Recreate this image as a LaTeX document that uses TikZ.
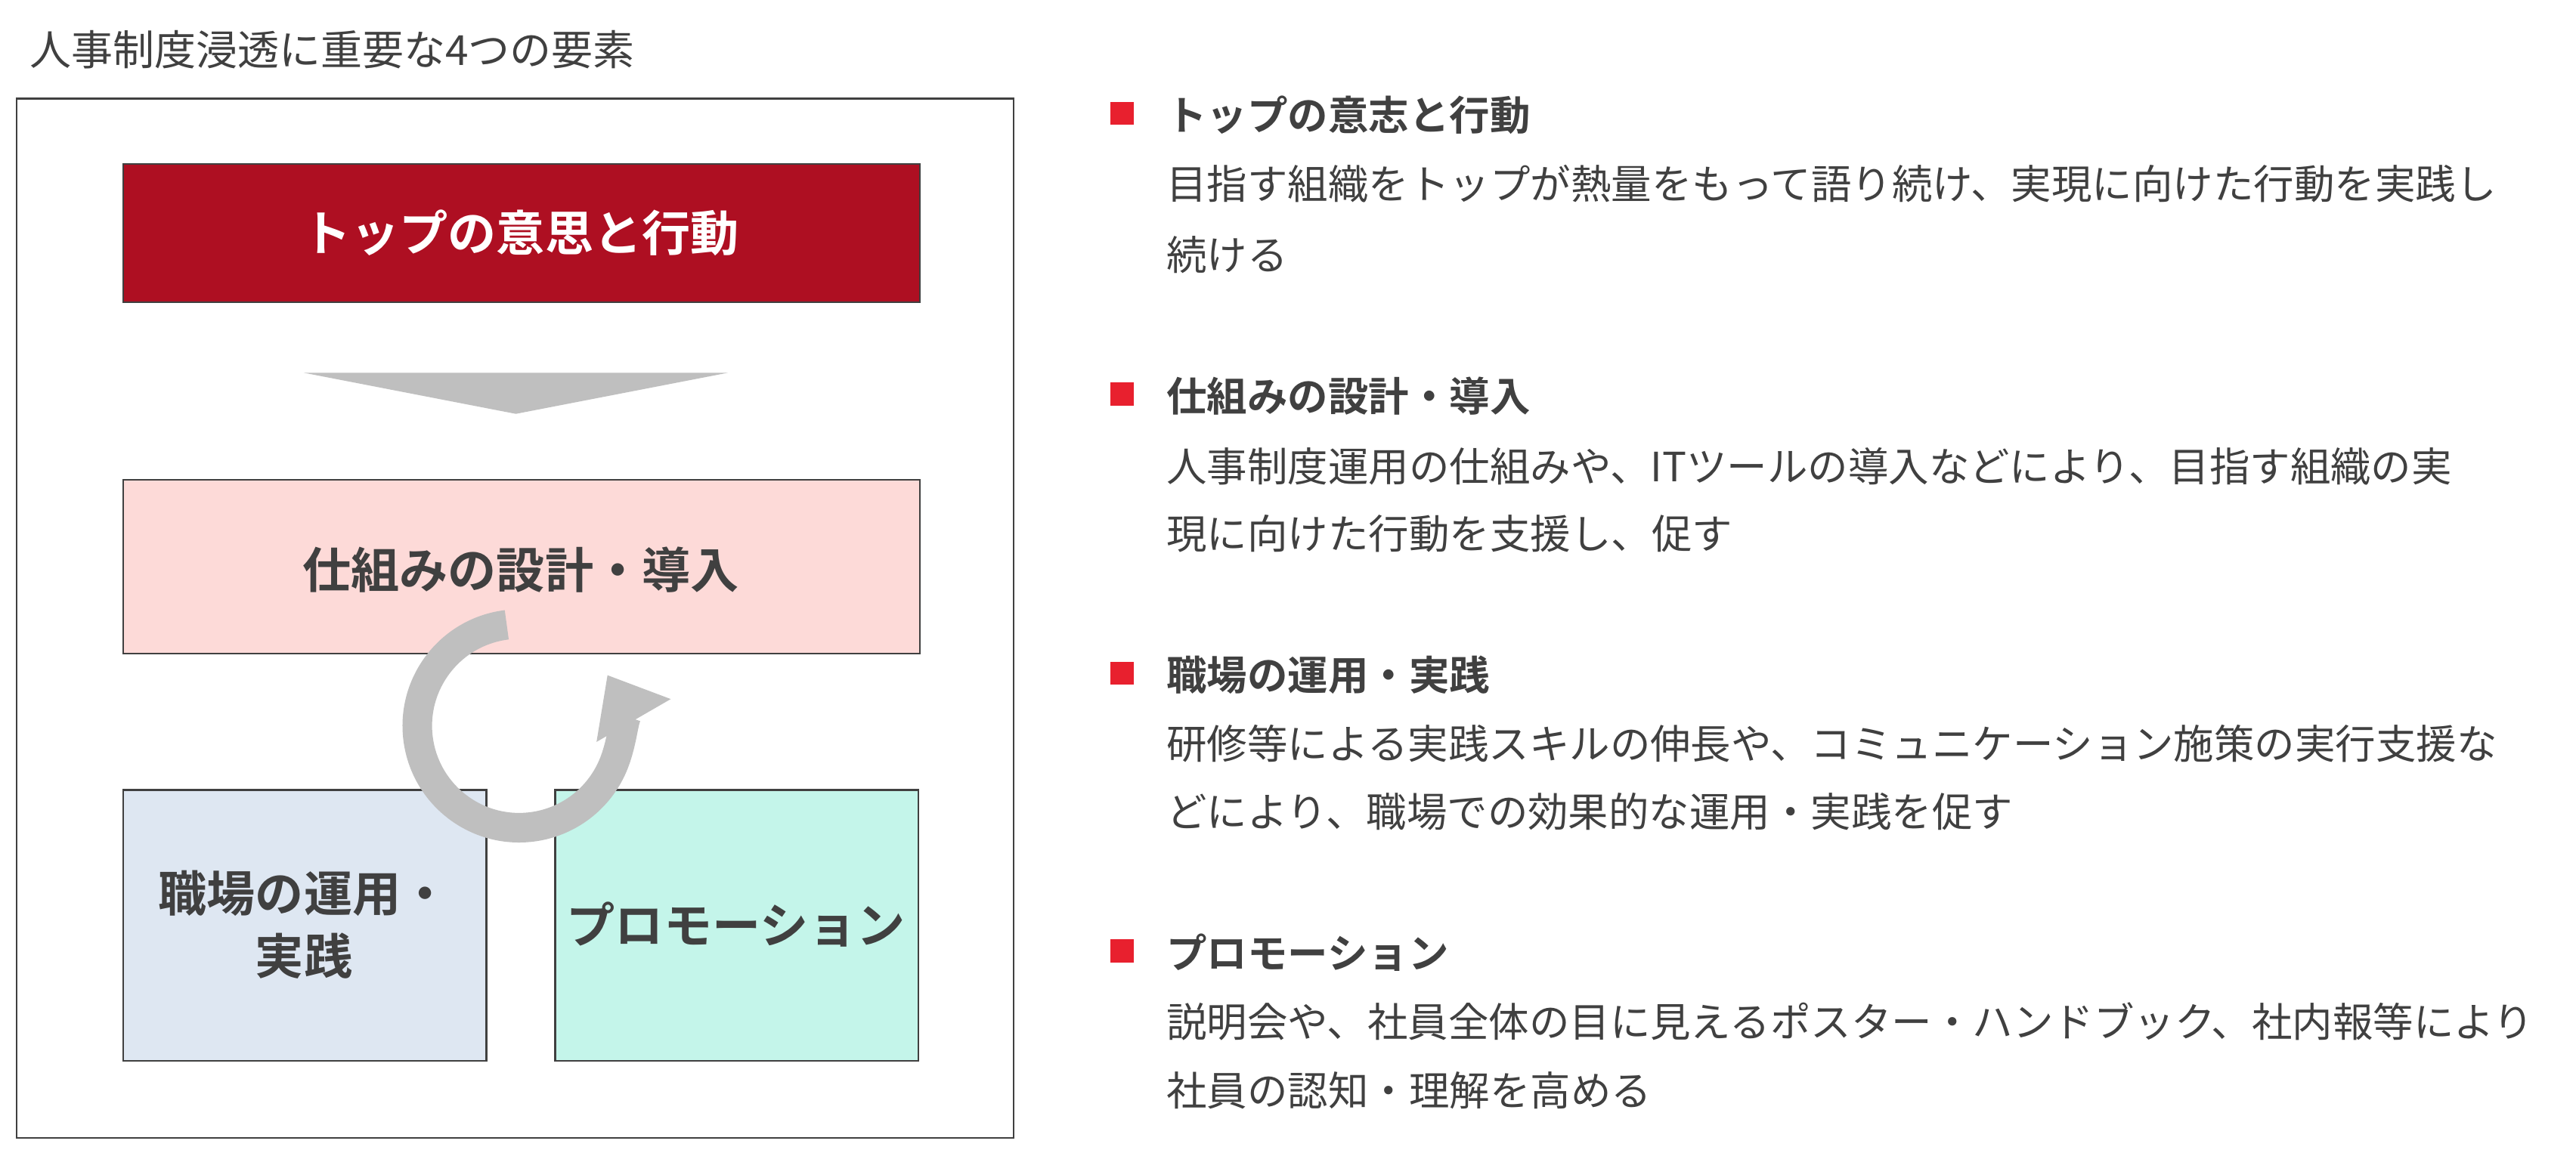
\documentclass[tikz,border=0pt]{standalone}
\usepackage{fontspec}
\setmainfont{Noto Sans CJK JP}[BoldFont={Noto Sans CJK JP Bold}]
\usetikzlibrary{arrows.meta}
\definecolor{tx}{HTML}{404040}
\definecolor{topred}{HTML}{AE0F22}
\definecolor{pinkb}{HTML}{FDDAD8}
\definecolor{blueb}{HTML}{DEE7F2}
\definecolor{greenb}{HTML}{C4F5EA}
\definecolor{greyc}{HTML}{BFBFBF}
\definecolor{bullet}{HTML}{E8202E}
\tikzset{
  boxs/.style={draw=tx, line width=1.5pt},
  lbl/.style={font=\bfseries\fontsize{42}{54}\selectfont, text=tx, align=center},
  head/.style={anchor=west, font=\bfseries\fontsize{35}{42}\selectfont, text=tx, inner sep=0},
  body/.style={anchor=west, font=\fontsize{35}{42}\selectfont, text=tx, inner sep=0},
  sq/.style={fill=bullet, minimum size=0.7cm, inner sep=0}
}
\begin{document}
\begin{tikzpicture}[x=0.05cm,y=-0.05cm]
\useasboundingbox[fill=white] (0,0) rectangle (1568,700);
\node[anchor=west, font=\fontsize{36}{42}\selectfont, text=tx, inner sep=0] (title) at (18,30) {人事制度浸透に重要な4つの要素};
\draw[tx, line width=1.5pt] (10,60) rectangle (617,693);
\draw[boxs, fill=topred] (75,100) rectangle (560,184);
\node[lbl, text=white] (top) at (317,142) {トップの意思と行動};
\fill[greyc] (185,227) -- (443,227) -- (314,252) -- cycle;
\draw[boxs, fill=pinkb] (75,292) rectangle (560,398);
\node[lbl] (sys) at (317,347) {仕組みの設計・導入};
\draw[boxs, fill=blueb] (75,481) rectangle (296,646);
\node[lbl] (work) at (185,563) {職場の運用・\\実践};
\draw[boxs, fill=greenb] (338,481) rectangle (559,646);
\node[lbl] (promo) at (448,563) {プロモーション};
\draw[greyc, line width=0.9cm, -{Triangle[length=1.6cm,width=2.5cm]}] (316,442) ++(-97:62) arc[start angle=-97, end angle=-390, radius=62];
\node[sq] (b1) at (683,69) {};
\node[head] (h1) at (710,70) {トップの意志と行動};
\node[body] (t1a) at (710,112) {目指す組織をトップが熱量をもって語り続け、実現に向けた行動を実践し};
\node[body] (t1b) at (710,155) {続ける};
\node[sq] (b2) at (683,240) {};
\node[head] (h2) at (710,241) {仕組みの設計・導入};
\node[body] (t2a) at (710,284) {人事制度運用の仕組みや、ITツールの導入などにより、目指す組織の実};
\node[body] (t2b) at (710,325) {現に向けた行動を支援し、促す};
\node[sq] (b3) at (683,410) {};
\node[head] (h3) at (710,411) {職場の運用・実践};
\node[body] (t3a) at (710,453) {研修等による実践スキルの伸長や、コミュニケーション施策の実行支援な};
\node[body] (t3b) at (710,494) {どにより、職場での効果的な運用・実践を促す};
\node[sq] (b4) at (683,579) {};
\node[head] (h4) at (710,580) {プロモーション};
\node[body] (t4a) at (710,622) {説明会や、社員全体の目に見えるポスター・ハンドブック、社内報等により};
\node[body] (t4b) at (710,664) {社員の認知・理解を高める};
\end{tikzpicture}
\end{document}
